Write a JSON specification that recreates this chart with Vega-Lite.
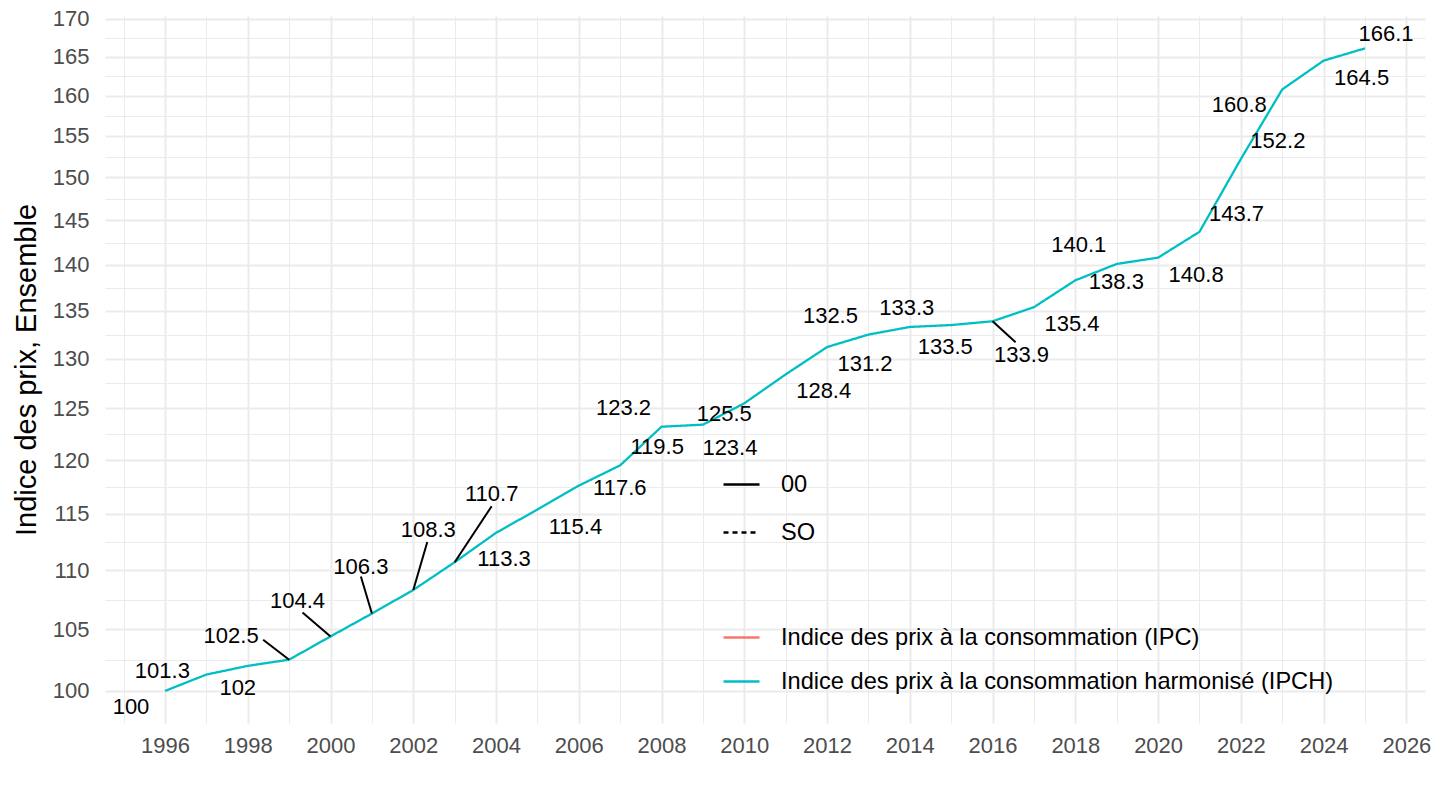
{
  "$schema": "https://vega.github.io/schema/vega-lite/v6.json",
  "width": 1320,
  "height": 707,
  "autosize": {"type": "none"},
  "padding": {"left": 105, "top": 16, "right": 15, "bottom": 87},
  "background": "white",
  "config": {
    "view": {"stroke": null},
    "font": "Liberation Sans",
    "axis": {
      "domain": false,
      "ticks": false,
      "grid": true,
      "gridColor": "#EBEBEB",
      "labelFont": "Liberation Sans",
      "labelFontSize": 22,
      "labelColor": "#4D4D4D",
      "labelOverlap": false,
      "labelFlush": false,
      "titleFont": "Liberation Sans",
      "titleFontWeight": "normal",
      "titleColor": "black"
    },
    "legend": {
      "labelFont": "Liberation Sans",
      "labelFontSize": 23.6,
      "labelColor": "black",
      "padding": 0,
      "symbolType": "stroke",
      "symbolSize": 1296,
      "symbolStrokeWidth": 2.3,
      "labelOffset": 20,
      "labelLimit": 800
    }
  },
  "data": {
    "values": [
      {"year": 1996, "value": 100, "serie": "Indice des prix à la consommation harmonisé (IPCH)", "type": "00"},
      {"year": 1997, "value": 101.3, "serie": "Indice des prix à la consommation harmonisé (IPCH)", "type": "00"},
      {"year": 1998, "value": 102, "serie": "Indice des prix à la consommation harmonisé (IPCH)", "type": "00"},
      {"year": 1999, "value": 102.5, "serie": "Indice des prix à la consommation harmonisé (IPCH)", "type": "00"},
      {"year": 2000, "value": 104.4, "serie": "Indice des prix à la consommation harmonisé (IPCH)", "type": "00"},
      {"year": 2001, "value": 106.3, "serie": "Indice des prix à la consommation harmonisé (IPCH)", "type": "00"},
      {"year": 2002, "value": 108.3, "serie": "Indice des prix à la consommation harmonisé (IPCH)", "type": "00"},
      {"year": 2003, "value": 110.7, "serie": "Indice des prix à la consommation harmonisé (IPCH)", "type": "00"},
      {"year": 2004, "value": 113.3, "serie": "Indice des prix à la consommation harmonisé (IPCH)", "type": "00"},
      {"year": 2005, "value": 115.4, "serie": "Indice des prix à la consommation harmonisé (IPCH)", "type": "00"},
      {"year": 2006, "value": 117.6, "serie": "Indice des prix à la consommation harmonisé (IPCH)", "type": "00"},
      {"year": 2007, "value": 119.5, "serie": "Indice des prix à la consommation harmonisé (IPCH)", "type": "00"},
      {"year": 2008, "value": 123.2, "serie": "Indice des prix à la consommation harmonisé (IPCH)", "type": "00"},
      {"year": 2009, "value": 123.4, "serie": "Indice des prix à la consommation harmonisé (IPCH)", "type": "00"},
      {"year": 2010, "value": 125.5, "serie": "Indice des prix à la consommation harmonisé (IPCH)", "type": "00"},
      {"year": 2011, "value": 128.4, "serie": "Indice des prix à la consommation harmonisé (IPCH)", "type": "00"},
      {"year": 2012, "value": 131.2, "serie": "Indice des prix à la consommation harmonisé (IPCH)", "type": "00"},
      {"year": 2013, "value": 132.5, "serie": "Indice des prix à la consommation harmonisé (IPCH)", "type": "00"},
      {"year": 2014, "value": 133.3, "serie": "Indice des prix à la consommation harmonisé (IPCH)", "type": "00"},
      {"year": 2015, "value": 133.5, "serie": "Indice des prix à la consommation harmonisé (IPCH)", "type": "00"},
      {"year": 2016, "value": 133.9, "serie": "Indice des prix à la consommation harmonisé (IPCH)", "type": "00"},
      {"year": 2017, "value": 135.4, "serie": "Indice des prix à la consommation harmonisé (IPCH)", "type": "00"},
      {"year": 2018, "value": 138.3, "serie": "Indice des prix à la consommation harmonisé (IPCH)", "type": "00"},
      {"year": 2019, "value": 140.1, "serie": "Indice des prix à la consommation harmonisé (IPCH)", "type": "00"},
      {"year": 2020, "value": 140.8, "serie": "Indice des prix à la consommation harmonisé (IPCH)", "type": "00"},
      {"year": 2021, "value": 143.7, "serie": "Indice des prix à la consommation harmonisé (IPCH)", "type": "00"},
      {"year": 2022, "value": 152.2, "serie": "Indice des prix à la consommation harmonisé (IPCH)", "type": "00"},
      {"year": 2023, "value": 160.8, "serie": "Indice des prix à la consommation harmonisé (IPCH)", "type": "00"},
      {"year": 2024, "value": 164.5, "serie": "Indice des prix à la consommation harmonisé (IPCH)", "type": "00"},
      {"year": 2025, "value": 166.1, "serie": "Indice des prix à la consommation harmonisé (IPCH)", "type": "00"}
    ]
  },
  "encoding": {
    "x": {
      "field": "year",
      "type": "quantitative",
      "scale": {"domain": [1994.55, 2026.45], "nice": false, "zero": false},
      "axis": {
        "title": null,
        "values": [1995, 1996, 1997, 1998, 1999, 2000, 2001, 2002, 2003, 2004, 2005, 2006, 2007, 2008, 2009, 2010, 2011, 2012, 2013, 2014, 2015, 2016, 2017, 2018, 2019, 2020, 2021, 2022, 2023, 2024, 2025, 2026],
        "format": "d",
        "labelExpr": "datum.value % 2 == 0 ? datum.label : ''",
        "labelPadding": 12,
        "gridWidth": {"condition": {"test": "datum.value % 2 == 0", "value": 2}, "value": 1}
      }
    },
    "y": {
      "field": "value",
      "type": "quantitative",
      "scale": {"type": "log", "domain": [97.5, 170.4], "nice": false, "zero": false},
      "axis": {
        "title": "Indice des prix, Ensemble",
        "titleFontSize": 29,
        "titlePadding": 11,
        "values": [100, 102.47, 105, 107.47, 110, 112.47, 115, 117.47, 120, 122.47, 125, 127.48, 130, 132.48, 135, 137.48, 140, 142.48, 145, 147.48, 150, 152.48, 155, 157.48, 160, 162.48, 165, 167.48, 170],
        "format": "d",
        "labelExpr": "datum.value % 5 == 0 ? datum.label : ''",
        "labelPadding": 16,
        "gridWidth": {"condition": {"test": "datum.value % 5 == 0", "value": 2}, "value": 1}
      }
    }
  },
  "layer": [
    {
      "mark": {"type": "line", "strokeWidth": 2.3},
      "encoding": {
        "color": {
          "field": "serie",
          "type": "nominal",
          "scale": {
            "domain": ["Indice des prix à la consommation (IPC)", "Indice des prix à la consommation harmonisé (IPCH)"],
            "range": ["#F8766D", "#00BFC4"]
          },
          "legend": {"title": null, "orient": "none", "legendX": 617, "legendY": 602, "rowPadding": 12}
        },
        "strokeDash": {
          "field": "type",
          "type": "nominal",
          "scale": {"domain": ["00", "SO"], "range": [[1, 0], [5, 4]]},
          "legend": {"title": null, "orient": "none", "legendX": 617, "legendY": 449, "rowPadding": 16, "symbolStrokeColor": "black"}
        }
      }
    },
    {
      "layer": [
        {"transform": [{"filter": "datum.year == 1999"}], "mark": {"type": "rule", "color": "black", "strokeWidth": 2, "x2Offset": -26, "y2Offset": -20}},
        {"transform": [{"filter": "datum.year == 2000"}], "mark": {"type": "rule", "color": "black", "strokeWidth": 2, "x2Offset": -28, "y2Offset": -24}},
        {"transform": [{"filter": "datum.year == 2001"}], "mark": {"type": "rule", "color": "black", "strokeWidth": 2, "x2Offset": -11, "y2Offset": -37}},
        {"transform": [{"filter": "datum.year == 2002"}], "mark": {"type": "rule", "color": "black", "strokeWidth": 2, "x2Offset": 14, "y2Offset": -48}},
        {"transform": [{"filter": "datum.year == 2003"}], "mark": {"type": "rule", "color": "black", "strokeWidth": 2, "x2Offset": 37, "y2Offset": -56}},
        {"transform": [{"filter": "datum.year == 2016"}], "mark": {"type": "rule", "color": "black", "strokeWidth": 2, "x2Offset": 23, "y2Offset": 21}}
      ],
      "encoding": {
        "x2": {"field": "year"},
        "y2": {"field": "value"}
      }
    },
    {
      "encoding": {"text": {"field": "value", "type": "nominal"}},
      "layer": [
        {"transform": [{"filter": {"field": "year", "oneOf": [2005, 2011, 2012, 2017, 2020, 2024]}}], "mark": {"type": "text", "fontSize": 22, "color": "black", "dx": 38, "dy": 17}},
        {"transform": [{"filter": {"field": "year", "oneOf": [2006, 2018]}}], "mark": {"type": "text", "fontSize": 22, "color": "black", "dx": 41, "dy": 2}},
        {"transform": [{"filter": {"field": "year", "oneOf": [2007, 2021, 2022]}}], "mark": {"type": "text", "fontSize": 22, "color": "black", "dx": 37, "dy": -18}},
        {"transform": [{"filter": {"field": "year", "oneOf": [2008, 2013, 2019]}}], "mark": {"type": "text", "fontSize": 22, "color": "black", "dx": -38, "dy": -19}},
        {"transform": [{"filter": "datum.year == 1996"}], "mark": {"type": "text", "fontSize": 22, "color": "black", "dx": -34, "dy": 16}},
        {"transform": [{"filter": "datum.year == 1997"}], "mark": {"type": "text", "fontSize": 22, "color": "black", "dx": -44, "dy": -4}},
        {"transform": [{"filter": "datum.year == 1998"}], "mark": {"type": "text", "fontSize": 22, "color": "black", "dx": -10, "dy": 22}},
        {"transform": [{"filter": "datum.year == 1999"}], "mark": {"type": "text", "fontSize": 22, "color": "black", "dx": -58, "dy": -24}},
        {"transform": [{"filter": "datum.year == 2000"}], "mark": {"type": "text", "fontSize": 22, "color": "black", "dx": -33, "dy": -35}},
        {"transform": [{"filter": "datum.year == 2001"}], "mark": {"type": "text", "fontSize": 22, "color": "black", "dx": -11, "dy": -47}},
        {"transform": [{"filter": "datum.year == 2002"}], "mark": {"type": "text", "fontSize": 22, "color": "black", "dx": 15, "dy": -60}},
        {"transform": [{"filter": "datum.year == 2003"}], "mark": {"type": "text", "fontSize": 22, "color": "black", "dx": 37, "dy": -68}},
        {"transform": [{"filter": "datum.year == 2004"}], "mark": {"type": "text", "fontSize": 22, "color": "black", "dx": 8, "dy": 26}},
        {"transform": [{"filter": "datum.year == 2009"}], "mark": {"type": "text", "fontSize": 22, "color": "black", "dx": 27, "dy": 23}},
        {"transform": [{"filter": "datum.year == 2010"}], "mark": {"type": "text", "fontSize": 22, "color": "black", "dx": -20, "dy": 11}},
        {"transform": [{"filter": "datum.year == 2014"}], "mark": {"type": "text", "fontSize": 22, "color": "black", "dx": -3, "dy": -19}},
        {"transform": [{"filter": "datum.year == 2015"}], "mark": {"type": "text", "fontSize": 22, "color": "black", "dx": -6, "dy": 22}},
        {"transform": [{"filter": "datum.year == 2016"}], "mark": {"type": "text", "fontSize": 22, "color": "black", "dx": 29, "dy": 34}},
        {"transform": [{"filter": "datum.year == 2023"}], "mark": {"type": "text", "fontSize": 22, "color": "black", "dx": -43, "dy": 16}},
        {"transform": [{"filter": "datum.year == 2025"}], "mark": {"type": "text", "fontSize": 22, "color": "black", "dx": 21, "dy": -14}}
      ]
    }
  ]
}
